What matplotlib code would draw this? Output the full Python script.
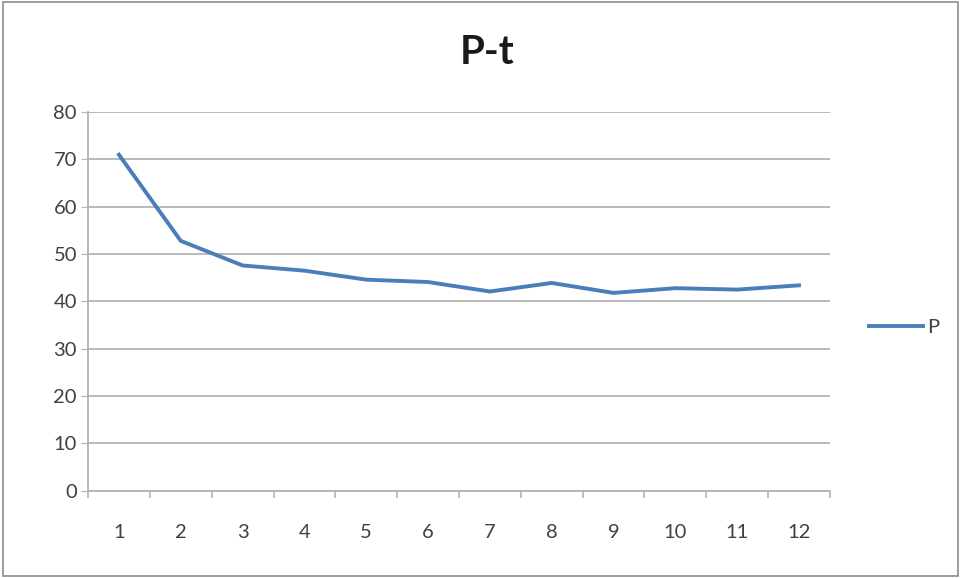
import matplotlib
matplotlib.use("Agg")
import matplotlib.pyplot as plt
from matplotlib.patches import Rectangle

title = "P-t"
series_name = "P"
categories = ["1", "2", "3", "4", "5", "6", "7", "8", "9", "10", "11", "12"]
p_values = [71.0, 52.8, 47.6, 46.5, 44.6, 44.1, 42.1, 43.9, 41.8, 42.8, 42.5, 43.4]
y_ticks = [0, 10, 20, 30, 40, 50, 60, 70, 80]

plt.rcParams['font.family'] = ['Lato', 'DejaVu Sans']

fig = plt.figure(figsize=(9.61, 5.78), dpi=100)
fig.patch.set_facecolor('white')
fig.patches.append(Rectangle((0.003, 0.004), 0.994, 0.992, transform=fig.transFigure,
                             fill=False, edgecolor='#8c8c8c', linewidth=1.2))

ax = fig.add_axes([0.0916, 0.151, 0.772, 0.655])
x = list(range(1, len(categories) + 1))
line, = ax.plot(x, p_values, color='#4A7EBB', linewidth=2.8, solid_joinstyle='round',
                label=series_name, zorder=3)

ax.set_xlim(0.5, len(categories) + 0.5)
ax.set_ylim(0, 80)
ax.set_yticks(y_ticks)
ax.set_yticklabels([str(v) for v in y_ticks])
ax.set_xticks(x)
ax.set_xticklabels(categories)
ax.set_xticks([i + 0.5 for i in range(0, len(categories) + 1)], minor=True)

ax.grid(axis='y', color='#b3b3b3', linewidth=1.3, zorder=0)
ax.set_axisbelow(True)
for s in ['top', 'right']:
    ax.spines[s].set_visible(False)
ax.spines['left'].set_color('#b3b3b3')
ax.spines['bottom'].set_color('#b3b3b3')
ax.spines['left'].set_linewidth(1.3)
ax.spines['bottom'].set_linewidth(1.3)

ax.tick_params(axis='y', which='major', length=5, color='#b3b3b3', labelsize=14.5,
               labelcolor='#404040', pad=3)
ax.tick_params(axis='x', which='major', length=0, labelsize=14.5, labelcolor='#404040', pad=24)
ax.tick_params(axis='x', which='minor', length=5, color='#b3b3b3', width=1.2)

fig.text(0.507, 0.91, title, ha='center', va='center', fontsize=29, fontweight='bold',
         color='#1a1a1a')

fig.legend(handles=[line], labels=[series_name], loc='center left',
           bbox_to_anchor=(0.885, 0.434), frameon=False, fontsize=14.5,
           handlelength=2.7, handletextpad=0.2, labelcolor='#404040')

fig.savefig("out.png", dpi=100)
